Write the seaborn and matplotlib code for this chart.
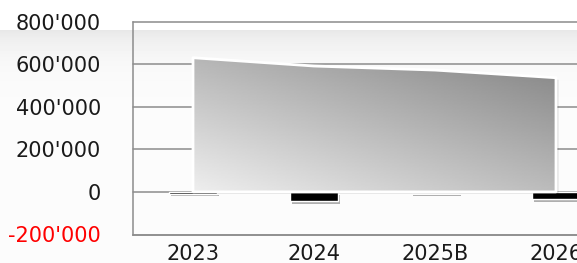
import matplotlib.pyplot as plt
import matplotlib.patheffects as pe
import numpy as np
import pandas as pd
import seaborn as sns
from matplotlib.ticker import FuncFormatter
from matplotlib.transforms import offset_copy


YEARS = ["2023", "2024", "2025B", "2026"]
AREA_VALUES = [630000, 591000, 572000, 536000]
BAR_VALUES = [-8000, -45000, -5000, -34000]
Y_TICKS = [-200000, 0, 200000, 400000, 600000, 800000]

W, H = 577, 263
GRID = "#8c8c8c"


def swiss(v, _pos=None):
    return f"{int(v):,}".replace(",", "'")


def draw_background(fig):
    # soft grey band that fades downwards, starting a bit below the top edge
    band = fig.add_axes([0, 0, 1, (H - 30) / H], zorder=-10)
    d = np.arange(H - 30)[:, None]
    shade = 252 - 20 * np.exp(-d / 22.0)
    img = np.repeat(shade, 10, axis=1)
    band.imshow(img, cmap="gray", vmin=0, vmax=255, aspect="auto", origin="upper")
    band.axis("off")


def draw_area(fig, ax):
    x = np.arange(len(YEARS))
    # drop shadow sits below the gradient, so it only peeks out right/below
    shadow = ax.fill_between(x, 0, AREA_VALUES, facecolor=(0, 0, 0, 0.12), edgecolor="none",
                             zorder=3.4)
    shadow.set_transform(offset_copy(ax.transData, fig=fig, x=2.5, y=-2, units="dots"))

    poly = ax.fill_between(x, 0, AREA_VALUES, facecolor="none", edgecolor="white",
                           linewidth=2.0, zorder=4)

    # diagonal grey gradient clipped to the area outline
    top = max(AREA_VALUES)
    u = np.linspace(0, 1, 200)[None, :]
    v = np.linspace(0, 1, 100)[:, None]
    grad = 238 - 50 * u - 56 * v
    im = ax.imshow(grad, cmap="gray", vmin=0, vmax=255, aspect="auto", origin="lower",
                   extent=[x[0], x[-1], 0, top], zorder=3.5, interpolation="bilinear")
    im.set_clip_path(poly.get_paths()[0], transform=ax.transData)


def main():
    sns.set_style("white")
    plt.rcParams["font.family"] = ["DejaVu Sans"]

    fig = plt.figure(figsize=(W / 100, H / 100), dpi=100)
    fig.patch.set_facecolor("white")
    draw_background(fig)

    left, bottom, top = 132.5 / W, (H - 234.5) / H, (H - 21.5) / H
    ax = fig.add_axes([left, bottom, 1 - left, top - bottom])
    ax.set_facecolor("none")

    df = pd.DataFrame({"year": YEARS, "bar": BAR_VALUES})
    sns.barplot(data=df, x="year", y="bar", color="black", saturation=1, width=0.4,
                edgecolor="white", linewidth=1.0, ax=ax, zorder=3)
    for bar in ax.patches:
        bar.set_path_effects([pe.SimplePatchShadow(offset=(1.5, -2), alpha=0.3), pe.Normal()])

    draw_area(fig, ax)

    ax.set_xlim(-0.5, -0.5 + (W - 132.5) / 121)
    ax.set_ylim(-200000, 800000)
    ax.set_yticks(Y_TICKS)
    ax.yaxis.set_major_formatter(FuncFormatter(swiss))
    ax.set_xlabel("")
    ax.set_ylabel("")

    ax.yaxis.grid(True, color=GRID, linewidth=1.1)
    ax.set_axisbelow(True)
    for gl in ax.get_ygridlines():
        gl.set_clip_on(False)

    for side in ["top", "right"]:
        ax.spines[side].set_visible(False)
    for side in ["left", "bottom"]:
        ax.spines[side].set_color(GRID)
        ax.spines[side].set_linewidth(1.1)

    ax.tick_params(axis="y", length=5.8, width=1.1, color=GRID, pad=17,
                   labelsize=15, labelcolor="#1a1a1a")
    ax.tick_params(axis="x", length=0, pad=7, labelsize=15, labelcolor="#1a1a1a")
    ax.get_yticklabels()[0].set_color("red")

    fig.savefig("out.png", dpi=100)


if __name__ == "__main__":
    main()
